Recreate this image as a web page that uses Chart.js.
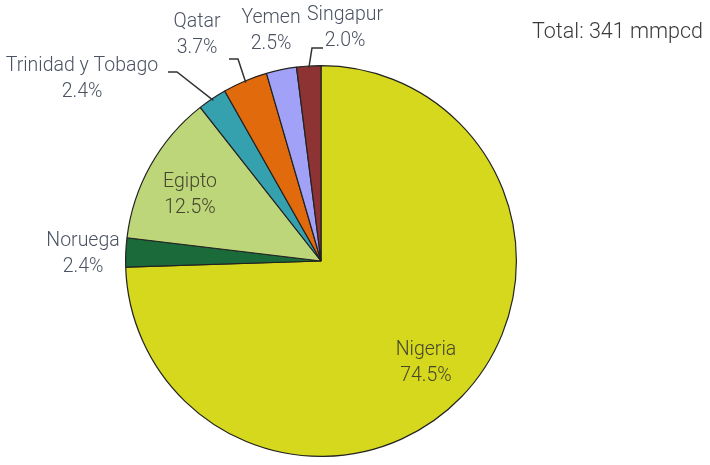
<!DOCTYPE html>
<html><head><meta charset="utf-8">
<script src="https://cdn.jsdelivr.net/npm/chart.js@4"></script>
<style>html,body{margin:0;padding:0;background:#fff}#wrap{width:710px;height:465px;position:relative}</style>
</head><body><div id="wrap"><canvas id="c" width="710" height="465"></canvas></div>
<script>
const categories = ["Nigeria","Noruega","Egipto","Trinidad y Tobago","Qatar","Yemen","Singapur"];
const shares = [74.5, 2.4, 12.5, 2.4, 3.7, 2.5, 2.0];
const shareLabels = ["74.5%","2.4%","12.5%","2.4%","3.7%","2.5%","2.0%"];
const totalLabel = "Total: 341 mmpcd";
const colors = ["#d5d81c","#1b6b3a","#bcd679","#35a1ae","#e06a0c","#a1a1f8","#8e3333"];

// label layout: text center, and leader elbow (x,y) + end x (layout only)
const labelLayout = [
  {x:426, y:350},
  {x:83, y:241},
  {x:190, y:182},
  {x:82, y:66, elbow:[177,72], end:168},
  {x:197, y:22, elbow:[238,59], end:229},
  {x:271, y:18},
  {x:345, y:15, elbow:[312,48], end:323}
];
const FONT = 'Roboto, sans-serif';

const labelPlugin = {
  id:'labels',
  afterDatasetsDraw(chart){
    const ctx = chart.ctx;
    const meta = chart.getDatasetMeta(0);
    ctx.save();
    meta.data.forEach((arc,i)=>{
      const L = labelLayout[i];
      if(L.elbow){
        const p = arc.getProps(['x','y','startAngle','endAngle','outerRadius'],true);
        const a = (p.startAngle+p.endAngle)/2;
        const sx = p.x + Math.cos(a)*(p.outerRadius-2);
        const sy = p.y + Math.sin(a)*(p.outerRadius-2);
        ctx.strokeStyle = '#333'; ctx.lineWidth = 1.5;
        ctx.beginPath(); ctx.moveTo(sx,sy); ctx.lineTo(L.elbow[0],L.elbow[1]); ctx.lineTo(L.end,L.elbow[1]); ctx.stroke();
      }
      ctx.fillStyle = i===0||i===2 ? '#45452e' : '#4b5262';
      ctx.font = '300 19.5px '+FONT;
      ctx.textAlign='center'; ctx.textBaseline='middle';
      ctx.fillText(categories[i], L.x, L.y);
      ctx.fillText(shareLabels[i], L.x, L.y+26);
    });
    ctx.fillStyle='#3a3a3a'; ctx.font='300 21.5px '+FONT; ctx.textAlign='right';
    ctx.fillText(totalLabel, 703, 33);
    ctx.restore();
  }
};

new Chart(document.getElementById('c'),{
  type:'pie',
  data:{labels:categories,datasets:[{data:shares,backgroundColor:colors,borderColor:'#222',borderWidth:1.2}]},
  options:{
    responsive:false,animation:false,
    layout:{padding:{left:125,right:193,top:65,bottom:8}},
    plugins:{legend:{display:false},tooltip:{enabled:false}}
  },
  plugins:[labelPlugin]
});
</script></body></html>
